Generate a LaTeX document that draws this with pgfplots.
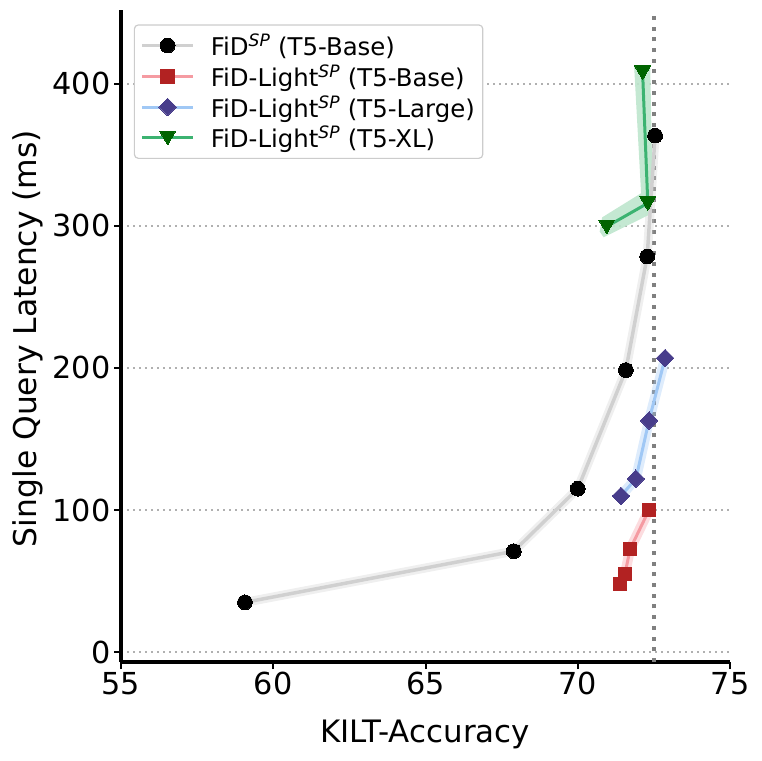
\documentclass[border=0pt]{standalone}
\usepackage{fontspec}
\setmainfont{DejaVu Sans}
\usepackage{pgfplots}
\pgfplotsset{compat=1.18}
\definecolor{gline}{RGB}{208,208,208}
\definecolor{rline}{RGB}{245,155,162}
\definecolor{rmark}{RGB}{178,34,34}
\definecolor{bline}{RGB}{160,200,245}
\definecolor{bmark}{RGB}{72,61,139}
\definecolor{grline}{RGB}{60,179,113}
\definecolor{grmark}{RGB}{0,100,0}
\definecolor{grband}{RGB}{190,230,205}
\definecolor{gridc}{RGB}{176,176,176}
\begin{document}
\begin{tikzpicture}
\path[use as bounding box] (0,0) rectangle (762bp,761bp);
\begin{axis}[
  at={(121bp,99bp)}, anchor=south west,
  scale only axis, width=609bp, height=652bp,
  xmin=55, xmax=75, ymin=-7, ymax=452,
  axis x line*=bottom, axis y line*=left,
  axis line style={-, line width=3.5bp, black},
  xtick={55,60,65,70,75}, ytick={0,100,200,300,400},
  tick align=outside, major tick length=7bp,
  tick style={line width=2bp, black},
  /pgf/number format/assume math mode=true,
  tick label style={font=\fontsize{30.4}{36}\selectfont},
  ymajorgrids,
  major grid style={gridc, line width=1.6bp, dash pattern=on 1.6bp off 4.4bp},
  legend cell align=left,
  legend image code/.code={\draw[mark repeat=2,mark phase=2,#1] plot coordinates {(0bp,0bp) (25.5bp,0bp) (51bp,0bp)};},
  legend style={at={(0.021,0.978)}, anchor=north west,
    font=\fontsize{24.5}{29}\selectfont,
    draw=black!20, line width=1.2bp, rounded corners=4bp,
    fill=white,
    inner xsep=6bp, inner ysep=7bp, row sep=3.6bp,
    /tikz/every odd column/.append style={column sep=14bp}},
]
% vertical reference line
\addplot[forget plot, gray, line width=4bp, dash pattern=on 4bp off 6.7bp] coordinates {(72.5,-7) (72.5,452)};

% bands
\addplot[forget plot, gline, opacity=0.35, line width=9bp, line join=round] coordinates {
(59.07,35) (67.9,71) (70.0,115) (71.58,198.5) (72.28,278.5) (72.54,363.6)};
\addplot[forget plot, rline, opacity=0.35, line width=10bp, line join=round] coordinates {
(71.39,48) (71.55,55) (71.72,72.5) (72.34,100)};
\addplot[forget plot, bline, opacity=0.35, line width=10bp, line join=round] coordinates {
(71.42,110) (71.91,122) (72.34,163) (72.87,207)};
\addplot[forget plot, fill=grband, draw=none, opacity=0.9] coordinates {
(71.85,413) (72.38,413) (72.46,320) (72.36,308) (70.85,292) (70.72,296) (70.8,306) (72.08,323)} -- cycle;

% lines with marks
\addplot[gline, line width=3.5bp, mark=*, mark size=7.4bp, mark options={fill=black, draw=black, line width=0pt}] coordinates {
(59.07,35) (67.9,71) (70.0,115) (71.58,198.5) (72.28,278.5) (72.54,363.6)};
\addlegendentry{FiD\textsuperscript{\textit{SP}} (T5-Base)}
\addplot[rline, line width=3bp, mark=square*, mark size=6.8bp, mark options={fill=rmark, draw=rmark, line width=0pt}] coordinates {
(71.39,48) (71.55,55) (71.72,72.5) (72.34,100)};
\addlegendentry{FiD-Light\textsuperscript{\textit{SP}} (T5-Base)}
\addplot[bline, line width=3bp, mark=square*, mark size=6.2bp, mark options={rotate=45, fill=bmark, draw=bmark, line width=0pt}] coordinates {
(71.42,110) (71.91,122) (72.34,163) (72.87,207)};
\addlegendentry{FiD-Light\textsuperscript{\textit{SP}} (T5-Large)}
\addplot[grline, line width=3bp, mark=triangle*, mark size=9bp, mark options={rotate=180, yshift=-2bp, fill=grmark, draw=grmark, line width=0pt}] coordinates {
(70.95,299.5) (72.3,316) (72.13,408)};
\addlegendentry{FiD-Light\textsuperscript{\textit{SP}} (T5-XL)}
\end{axis}
\node[anchor=base, font=\fontsize{31}{36}\selectfont] at (425bp,18.7bp) {KILT-Accuracy};
\node[anchor=base, rotate=90, font=\fontsize{31.5}{36}\selectfont] at (36.5bp,422.5bp) {Single Query Latency (ms)};
\end{tikzpicture}
\end{document}
